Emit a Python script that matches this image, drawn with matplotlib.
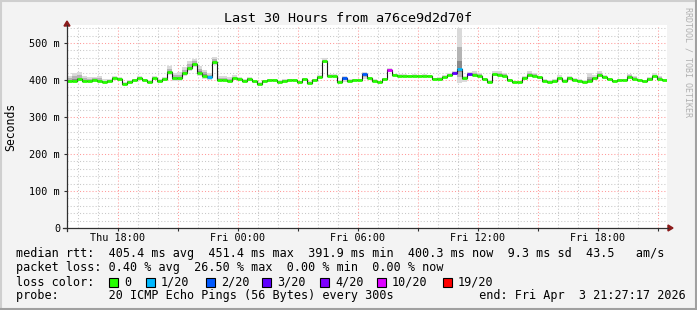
import matplotlib
matplotlib.use("Agg")
import matplotlib.pyplot as plt
from matplotlib.lines import Line2D
from matplotlib.patches import Rectangle, Polygon

plt.rcParams['font.family'] = ['DejaVu Sans Mono']

W, H = 697, 310

# time axis, hours since Thu 00:00 (Thu 15:27 .. Fri 21:27)
start_hour = 15.45
end_hour = 45.45
step_hours = 0.25

# median rtt in ms, one value per 15 minutes
median_ms = [
    398, 398, 402, 398, 398, 401, 398, 394, 398, 405, 404, 390, 395, 400, 405, 400, 394, 405, 398, 402,
    422, 405, 405, 418, 432, 442, 420, 412, 407, 450, 400, 400, 398, 405, 402, 398, 404, 396, 390, 397,
    400, 400, 395, 398, 400, 400, 394, 402, 392, 400, 408, 451, 412, 410, 395, 406, 398, 400, 400, 416,
    405, 398, 394, 402, 428, 413, 412, 411, 410, 411, 410, 411, 410, 402, 404, 408, 413, 418, 430, 405,
    416, 413, 412, 402, 395, 415, 413, 412, 400, 394, 394, 406, 413, 412, 407, 398, 395, 396, 405, 398,
    406, 401, 398, 394, 397, 405, 413, 407, 402, 397, 400, 400, 408, 402, 399, 396, 404, 410, 404, 400,
]

# lost pings out of 20
lost_pings = [
    0, 0, 0, 0, 0, 0, 0, 0, 0, 0, 0, 0, 0, 0, 0, 0, 0, 0, 0, 0,
    0, 0, 0, 0, 0, 0, 0, 0, 1, 0, 0, 0, 0, 0, 0, 0, 0, 0, 0, 0,
    0, 0, 0, 0, 0, 0, 0, 0, 0, 0, 0, 0, 0, 0, 0, 2, 0, 0, 0, 2,
    0, 0, 0, 0, 10, 0, 0, 0, 0, 0, 0, 0, 0, 0, 0, 0, 0, 3, 1, 0,
    3, 0, 0, 0, 0, 0, 0, 0, 0, 0, 0, 0, 0, 0, 0, 0, 0, 0, 0, 0,
    0, 0, 0, 0, 0, 0, 0, 0, 0, 0, 0, 0, 0, 0, 0, 0, 0, 0, 0, 0,
]

# smoke spread above / below the median, ms
smoke_up_ms = [
    12, 22, 20, 12, 10, 8, 12, 8, 6, 6, 5, 5, 5, 4, 5, 4, 5, 5, 4, 5,
    15, 14, 16, 18, 20, 16, 18, 16, 12, 12, 12, 12, 10, 8, 5, 5, 4, 4, 4, 4,
    4, 4, 4, 4, 4, 4, 4, 4, 4, 4, 5, 8, 5, 5, 4, 6, 5, 4, 4, 5,
    4, 4, 4, 4, 4, 4, 4, 4, 4, 4, 4, 4, 4, 4, 4, 6, 6, 5, 110, 5,
    5, 12, 6, 4, 4, 8, 12, 8, 4, 4, 4, 4, 12, 8, 4, 4, 4, 6, 8, 4,
    4, 4, 4, 6, 22, 8, 12, 6, 4, 4, 4, 4, 8, 10, 4, 4, 4, 8, 6, 4,
]
smoke_down_ms = [
    3, 3, 3, 3, 3, 3, 3, 3, 3, 3, 3, 3, 3, 3, 3, 3, 3, 3, 3, 3,
    8, 8, 8, 8, 8, 8, 8, 8, 8, 10, 4, 4, 4, 3, 3, 3, 3, 3, 3, 3,
    3, 3, 3, 3, 3, 3, 3, 3, 3, 3, 3, 4, 3, 3, 3, 12, 3, 3, 3, 12,
    3, 3, 3, 3, 4, 3, 3, 3, 3, 3, 3, 3, 3, 3, 3, 3, 3, 4, 38, 10,
    3, 3, 3, 3, 3, 3, 3, 3, 4, 3, 3, 3, 3, 3, 3, 3, 3, 3, 3, 3,
    3, 3, 3, 3, 3, 3, 3, 3, 3, 3, 3, 3, 3, 3, 3, 3, 3, 3, 3, 3,
]

x_ticks = [18, 24, 30, 36, 42]
x_labels = ["Thu 18:00", "Fri 00:00", "Fri 06:00", "Fri 12:00", "Fri 18:00"]
y_ticks = [0, 100, 200, 300, 400, 500]
y_labels = ["0", "100 m", "200 m", "300 m", "400 m", "500 m"]

loss_levels = [0, 1, 2, 3, 4, 10, 19]
loss_names = ["0", "1/20", "2/20", "3/20", "4/20", "10/20", "19/20"]
loss_colors = ['#26ff00', '#00b8ff', '#0059ff', '#5e00ff', '#7e00ff', '#dd00ff', '#ff0000']

legend_rows = [
    "median rtt:  405.4 ms avg  451.4 ms max  391.9 ms min  400.3 ms now  9.3 ms sd  43.5   am/s",
    "packet loss: 0.40 % avg  26.50 % max  0.00 % min  0.00 % now",
    "loss color:",
    "probe:       20 ICMP Echo Pings (56 Bytes) every 300s            end: Fri Apr  3 21:27:17 2026",
]


def fx(x):
    return x / W


def fy(y):
    return 1 - y / H


def loss_color(n):
    col = loss_colors[0]
    for lvl, c in zip(loss_levels, loss_colors):
        if n >= lvl:
            col = c
    return col


fig = plt.figure(figsize=(W / 100, H / 100), dpi=100, facecolor='#f3f3f3')
ax = fig.add_axes([fx(67), fy(228), 600 / W, (228 - 24.5) / H])
ax.set_facecolor('white')
ax.set_xlim(start_hour, end_hour)
ax.set_ylim(0, 550)

# grid
for h in range(16, 46):
    major = h % 3 == 0
    ax.axvline(h, color='#ff9a9a' if major else '#c8c8c8', lw=0.75,
               ls=(0, (1, 2)), zorder=0.5)
for v in range(20, 550, 20):
    major = v % 100 == 0
    ax.axhline(v, color='#ff9a9a' if major else '#c8c8c8', lw=0.75,
               ls=(0, (1, 2)), zorder=0.5)

times = [start_hour + step_hours * i for i in range(len(median_ms))]
t_edges = times + [end_hour]
med_ext = median_ms + [median_ms[-1]]
up_ext = smoke_up_ms + [smoke_up_ms[-1]]
dn_ext = smoke_down_ms + [smoke_down_ms[-1]]

# smoke
for frac, col in [(1.0, '#dadada'), (0.55, '#b4b4b4'), (0.2, '#8a8a8a')]:
    lo = [m - d * frac for m, d in zip(med_ext, dn_ext)]
    hi = [m + u * frac for m, u in zip(med_ext, up_ext)]
    ax.fill_between(t_edges, lo, hi, step='post', color=col, lw=0, zorder=1)

# median line
ax.step(t_edges, med_ext, where='post', color='#1a1a1a', lw=0.8, zorder=2)
ax.hlines(median_ms, times, [t + step_hours for t in times],
          colors=[loss_color(n) for n in lost_pings], lw=2.0, zorder=3)

for s in ax.spines.values():
    s.set_visible(False)
ax.set_xticks([h for h in range(18, 46, 3)])
ax.set_xticklabels([x_labels[x_ticks.index(h)] if h in x_ticks else "" for h in range(18, 46, 3)])
ax.set_yticks(y_ticks)
ax.set_yticklabels(y_labels)
ax.tick_params(axis='x', length=2, width=0.8, color='#303030', pad=1.5, labelsize=7.3)
ax.tick_params(axis='y', length=2, width=0.8, color='#303030', pad=3, labelsize=7.3)

# axis lines with arrows
axis_col = '#303030'
arrow_col = '#8b1a1a'
fig.add_artist(Line2D([fx(67), fx(67)], [fy(231), fy(25)], color=axis_col, lw=0.9))
fig.add_artist(Line2D([fx(63), fx(668)], [fy(228), fy(228)], color=axis_col, lw=0.9))
fig.add_artist(Polygon([(fx(64), fy(26)), (fx(70), fy(26)), (fx(67), fy(21))],
                       closed=True, color=arrow_col, transform=fig.transFigure))
fig.add_artist(Polygon([(fx(668), fy(225)), (fx(668), fy(231)), (fx(673), fy(228))],
                       closed=True, color=arrow_col, transform=fig.transFigure))

# titles
fig.text(fx(348), fy(19), "Last 30 Hours from a76ce9d2d70f", ha='center', va='center', fontsize=9.6)
fig.text(fx(11), fy(127), "Seconds", ha='center', va='center', rotation=90, fontsize=8.3)
fig.text(fx(688), fy(62), "RRDTOOL / TOBI OETIKER", ha='center', va='center', rotation=270,
         fontsize=6, color='#b0b0b0')

# legend
row_y = [254, 268, 282, 296]
for txt, y in zip(legend_rows, row_y):
    fig.text(fx(16), fy(y), txt, ha='left', va='center', fontsize=8.5)

box_x = [109, 146, 206, 262, 320, 377, 443]
for bx, name, col in zip(box_x, loss_names, loss_colors):
    fig.add_artist(Rectangle((fx(bx), fy(286.5)), 9 / W, 9 / H, facecolor=col,
                             edgecolor='black', lw=0.8, transform=fig.transFigure))
    fig.text(fx(bx + 15), fy(282), name, ha='left', va='center', fontsize=8.5)

# frame
fig.add_artist(Line2D([0, 1], [fy(0.5), fy(0.5)], color='#cfcfcf', lw=1.5))
fig.add_artist(Line2D([fx(0.5), fx(0.5)], [0, 1], color='#cfcfcf', lw=1.5))
fig.add_artist(Line2D([0, 1], [fy(309), fy(309)], color='#a0a0a0', lw=1.5))
fig.add_artist(Line2D([fx(696), fx(696)], [0, 1], color='#a0a0a0', lw=1.5))

fig.savefig("out.png", dpi=100, facecolor=fig.get_facecolor())
